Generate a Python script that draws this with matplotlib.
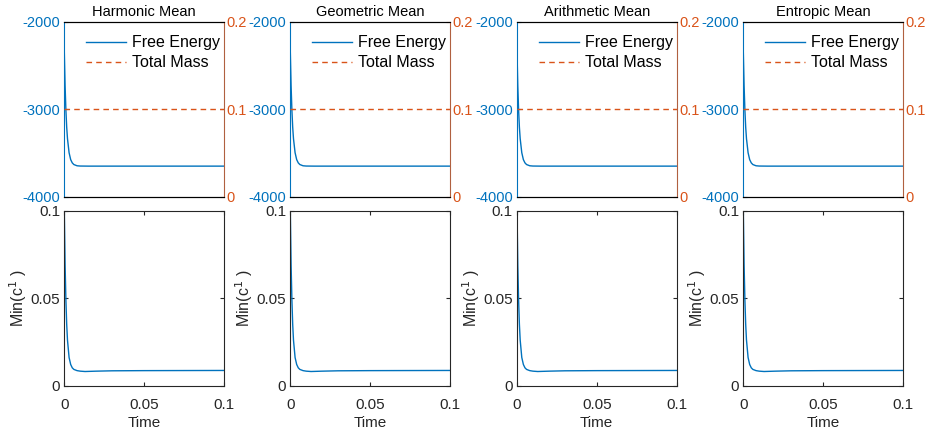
import matplotlib.pyplot as plt
import numpy as np

plt.rcParams['font.family'] = ['Liberation Sans', 'DejaVu Sans']
plt.rcParams['font.size'] = 10
plt.rcParams['axes.unicode_minus'] = False

# data
titles = ['Harmonic Mean', 'Geometric Mean', 'Arithmetic Mean', 'Entropic Mean']

t_energy = [0, 0.0005, 0.001, 0.0015, 0.002, 0.003, 0.004, 0.005, 0.006,
            0.008, 0.010, 0.015, 0.03, 0.05, 0.1]
free_energy = [-2345, -2737, -3011, -3207, -3338, -3498, -3577, -3614, -3633,
               -3647, -3650, -3651, -3651, -3651, -3651]

t_mass = [0, 0.1]
total_mass = [0.1, 0.1]

t_min = [0, 0.0005, 0.001, 0.0015, 0.002, 0.003, 0.004, 0.005, 0.006,
         0.008, 0.010, 0.013, 0.02, 0.03, 0.05, 0.1]
min_c1 = [0.1, 0.069, 0.049, 0.035, 0.026, 0.0161, 0.0121, 0.0102, 0.0093,
          0.0086, 0.0083, 0.0081, 0.0083, 0.0085, 0.0086, 0.0087]

blue = '#0072BD'
orange = '#D95319'
dark = '#262626'

fig = plt.figure(figsize=(9.26, 4.32), dpi=100)

lefts = [64.3, 290.3, 517, 743.3]
w = 159.5
W, H = 926, 432

for i, title in enumerate(titles):
    # top: free energy + total mass
    ax = fig.add_axes([lefts[i] / W, 1 - 196.7 / H, w / W, 175.2 / H])
    ax.plot(t_energy, free_energy, color=blue, lw=1.0, label='Free Energy')
    ax.set_xlim(0, 0.1)
    ax.set_ylim(-4000, -2000)
    ax.set_yticks([-4000, -3000, -2000])
    ax.set_xticks([])
    ax.tick_params(axis='y', direction='in', colors=blue, length=3, labelsize=10.5, pad=3)
    ax.spines['left'].set_color(blue)
    ax.spines['right'].set_visible(False)
    ax.set_title(title, fontsize=10.5, color='k', pad=4)

    ax2 = ax.twinx()
    ax2.plot(t_mass, total_mass, color=orange, lw=1.0, ls=(0, (4, 3)), label='Total Mass')
    ax2.set_ylim(0, 0.2)
    ax2.set_yticks([0, 0.1, 0.2])
    ax2.set_yticklabels(['0', '0.1', '0.2'])
    ax2.tick_params(axis='y', direction='in', colors=orange, length=3, labelsize=10.5, pad=2)
    ax2.spines['right'].set_color('#B06040')
    ax2.spines['left'].set_visible(False)
    ax2.spines['top'].set_color('k')
    ax2.spines['bottom'].set_color('k')

    h1, l1 = ax.get_legend_handles_labels()
    h2, l2 = ax2.get_legend_handles_labels()
    ax2.legend(h1 + h2, l1 + l2, loc='upper right', bbox_to_anchor=(1.016, 0.957),
               frameon=False, fontsize=11.5, handlelength=2.5, handletextpad=0.35,
               labelspacing=0.3, borderaxespad=0)

    # bottom: minimum of c^1
    bx = fig.add_axes([lefts[i] / W, 1 - 385.7 / H, w / W, 175.2 / H])
    bx.plot(t_min, min_c1, color=blue, lw=1.0)
    bx.set_xlim(0, 0.1)
    bx.set_ylim(0, 0.1)
    bx.set_xticks([0, 0.05, 0.1])
    bx.set_xticklabels(['0', '0.05', '0.1'])
    bx.set_yticks([0, 0.05, 0.1])
    bx.set_yticklabels(['0', '0.05', '0.1'])
    bx.tick_params(direction='in', top=True, right=True, colors=dark,
                   length=3, labelsize=11, pad=3)
    bx.tick_params(axis='x', pad=9)
    for s in bx.spines.values():
        s.set_color(dark)
    bx.set_xlabel('Time', fontsize=11, color=dark, labelpad=3)
    bx.set_ylabel('Min(c$^1$ )', fontsize=11.5, color=dark, labelpad=1)

fig.savefig('out.png', dpi=100)
